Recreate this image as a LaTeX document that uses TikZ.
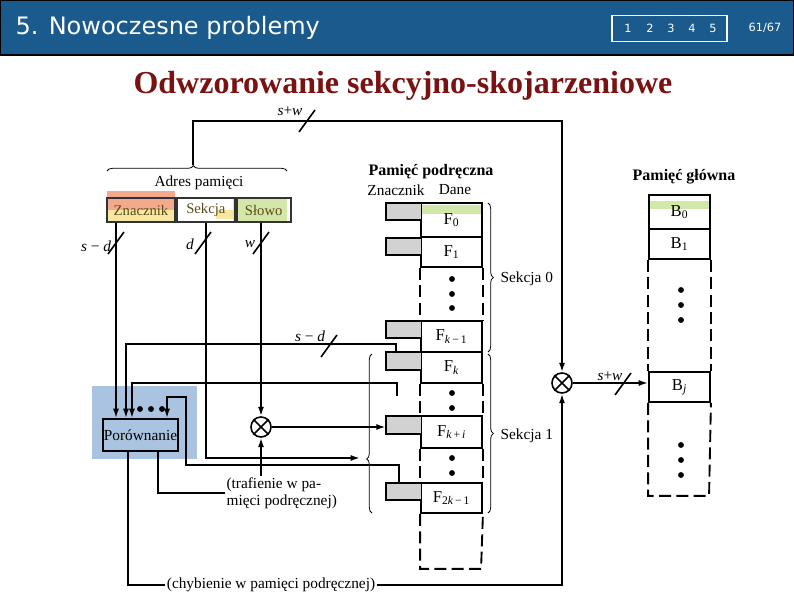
\documentclass[tikz,border=0pt]{standalone}
\usepackage{fontspec}
\setmainfont{Liberation Serif}
\newfontfamily\headfont{DejaVu Sans}
\usetikzlibrary{arrows.meta,positioning,calc,decorations.pathreplacing}
\definecolor{headblue}{HTML}{1A5A8C}
\definecolor{titlered}{HTML}{7A1212}
\definecolor{hlblue}{HTML}{A9C3E0}
\definecolor{tagsalmon}{HTML}{F3A98E}
\definecolor{tagyellow}{HTML}{F7E7A2}
\definecolor{wordgreen}{HTML}{D3E7A9}
\definecolor{fieldtext}{HTML}{5E4A18}
\definecolor{taggray}{HTML}{D2D2D2}

\begin{document}
\begin{tikzpicture}[x=0.75pt,y=-0.75pt,
  conn/.style={line width=1.3pt},
  arr/.style={conn,-{Latex[length=7pt,width=4.5pt]}},
  cell/.style={draw,line width=1.4pt,minimum width=45.75pt,minimum height=22.5pt,
    inner sep=0pt,font=\fontsize{12.5}{14}\selectfont},
  dashline/.style={line width=1.4pt,dash pattern=on 9pt off 4pt},
  tagbox/.style={fill=taggray,minimum width=26.25pt,minimum height=12.75pt,inner sep=0pt},
  field/.style={draw=black!80,line width=1.4pt,minimum height=18pt,inner sep=0pt,
    text=fieldtext,font=\fontsize{11}{12}\selectfont},
  lbl/.style={font=\fontsize{11.5}{12.5}\selectfont,inner sep=1pt},
  head/.style={font=\bfseries\fontsize{12}{14}\selectfont,inner sep=1pt},
  mult/.style={draw,circle,line width=1.2pt,minimum size=15pt,inner sep=0pt},
  brc/.style={decorate,decoration={brace,amplitude=4pt,aspect=#1},line width=0.6pt},
  brc/.default=0.5,
  busmark/.pic={\draw[line width=1.2pt] (-8,11) -- (8,-11);},
]
\useasboundingbox (0,0) rectangle (794,595);

% header band
\fill[headblue] (0,0) rectangle (794,55);
\draw[line width=1.2pt] (0.6,0.6) rectangle (793.4,55);
\node[anchor=west,text=white,font=\headfont\fontsize{18}{21}\selectfont] (headtitle) at (11,28) {5. Nowoczesne problemy};
\node[draw=white,line width=0.9pt,minimum width=86.25pt,minimum height=20pt,inner sep=0pt] (navbox) at (669.5,28.5) {};
\foreach \n/\xx in {1/628,2/650,3/671,4/692,5/713}
  \node[text=white,font=\headfont\fontsize{8.5}{10}\selectfont] (nav\n) at (\xx,28) {\n};
\node[text=white,font=\headfont\fontsize{8.5}{10}\selectfont] (pageno) at (765,28) {61/67};

\node[text=titlered,font=\bfseries\fontsize{24}{28}\selectfont] (title) at (403,86) {Odwzorowanie sekcyjno-skojarzeniowe};

% memory address
\fill[tagsalmon] (107,191) rectangle (175,210);
\fill[tagyellow] (107,210) rectangle (175,222);
\fill[tagyellow] (216,210) rectangle (233,219);
\fill[wordgreen] (233,198) rectangle (287,222);
\node[field,minimum width=51pt] (zn) at (141,210) {Znacznik};
\node[field,minimum width=43.5pt,right=0pt of zn] (sek) {Sekcja};
\node[field,minimum width=40.5pt,right=0pt of sek] (slo) {Słowo};
\node[lbl] (adr) at (199,183) {Adres pamięci};
\draw[brc=0.48] (107,171) -- (287,171);
\coordinate (adrtip) at (193,165);

% cache memory
\node[head] (cachehead) at (431,172) {Pamięć podręczna};
\node[lbl] (cachetag) at (396,190) {Znacznik};
\node[lbl] (cachedata) at (455,190) {Dane};
\fill[wordgreen] (421,205) rectangle (482,214);
\node[cell,minimum height=25.5pt] (f0) at (451.5,220) {F\textsubscript{0}};
\node[cell] (f1) at (451.5,252) {F\textsubscript{1}};
\node[cell,minimum height=23.25pt] (fk1) at (451.5,336.5) {F\textsubscript{\textit{k}\,−\,1}};
\node[cell,minimum height=23.25pt] (fk) at (451.5,367.5) {F\textsubscript{\textit{k}}};
\node[cell,minimum height=24pt] (fki) at (451.5,432) {F\textsubscript{\textit{k}\,+\,\textit{i}}};
\node[cell] (f2k) at (451.5,498) {F\textsubscript{2\textit{k}\,−\,1}};
\draw[dashline] (f1.south west) -- (fk1.north west) (f1.south east) -- (fk1.north east);
\draw[dashline] (fk.south west) -- (fki.north west) (fk.south east) -- (fki.north east);
\draw[dashline] (fki.south west) -- (f2k.north west) (fki.south east) -- (f2k.north east);
\draw[dashline] (f2k.south west) -- ++(0,55) -- ++(61,0) -- (f2k.south east);
\foreach \t/\yy in {t0/211.5,t1/246.5,tk1/329.5,tk/361,tki/425,t2k/491.5}
  \node[tagbox] (\t) at (403.5,\yy) {};
\foreach \t in {t0,t1,tk1,tk,tki,t2k}
  \draw[line width=1.7pt] (\t.north east) -- (\t.north west) -- (\t.south west) -- (\t.south east);
\foreach \yy in {279,294,308,393,408,458,473}
  \fill (452,\yy) circle (2.2pt);
\draw[brc] (488,203) -- (488,352);
\draw[brc] (488,354) -- (488,513);
\draw[brc=0.34] (372,513) -- (372,354);
\coordinate (sec1tip) at (360,458);
\node[lbl,anchor=west] (sec0) at (499,279) {Sekcja 0};
\node[lbl,anchor=west] (sec1) at (499,436) {Sekcja 1};

% main memory
\node[head] (mainhead) at (684,177) {Pamięć główna};
\fill[wordgreen] (649,201) rectangle (709,209);
\node[cell,minimum height=25.5pt] (b0) at (679.5,212) {B\textsubscript{0}};
\node[cell] (b1) at (679.5,244) {B\textsubscript{1}};
\node[cell] (bj) at (679.5,387) {B\textsubscript{\textit{j}}};
\draw[dashline] (b1.south west) -- (bj.north west) (b1.south east) -- (bj.north east);
\draw[dashline] (bj.south west) -- ++(0,93) -- ++(61,0) -- (bj.south east);
\foreach \yy in {290,305,320,445,460,475}
  \fill (681,\yy) circle (2.2pt);

% comparator and multipliers
\fill[hlblue] (92,386) rectangle (197,459);
\node[draw,line width=1.4pt,minimum width=56.25pt,minimum height=24pt,inner sep=0pt,
  font=\fontsize{11.5}{12.5}\selectfont] (cmp) at (140.5,435) {Porównanie};
\foreach \xx in {140,151,162}
  \fill (\xx,409) circle (2.2pt);
\node[mult] (mul1) at (261,427) {};
\node[mult] (mul2) at (562,383) {};
\foreach \m in {mul1,mul2}
  \draw[line width=1.1pt] (\m.north west) -- (\m.south east) (\m.north east) -- (\m.south west);
\node[lbl,anchor=west,align=left,font=\fontsize{11.5}{12.8}\selectfont] (hit) at (225,493)
  {(trafienie w pa-\\mięci podręcznej)};
\node[lbl] (miss) at (271,585) {(chybienie w pamięci podręcznej)};

% connectors
\coordinate (topbend) at (562,121);
\draw[arr] (adrtip) |- (topbend) -- (mul2.north);
\pic at (307,121) {busmark};
\node[lbl] (lswa) at (290,111) {\textit{s}+\textit{w}};
\draw[arr] ([xshift=-18.75pt]zn.south) -- ([xshift=-18.75pt]zn.south |- cmp.north);
\pic at (116,243) {busmark};
\node[lbl] (lsda) at (96,246) {\textit{s} − \textit{d}};
\draw[arr] (sek.south) |- (sec1tip);
\pic at (203,243) {busmark};
\node[lbl] (ld) at (190,244) {\textit{d}};
\draw[arr] (slo.south -| mul1.north) -- (mul1.north);
\pic at (261,243) {busmark};
\node[lbl] (lw) at (250,244) {\textit{w}};
\draw[arr] ([xshift=7.5pt]tk.north west) -- ++(0,-8) -| ([xshift=-10.9pt]cmp.north);
\pic at (329,346) {busmark};
\node[lbl] (lsdb) at (310,336) {\textit{s} − \textit{d}};
\coordinate (stub) at (397,396);
\draw[arr] (stub) -- ++(0,-13) -| ([xshift=-6.4pt]cmp.north);
\draw[arr] ([xshift=9.75pt]t2k.north west) -- ++(0,-18) -| (186,397) -| ([xshift=19.9pt]cmp.north);
\draw[arr] (mul1.east) -- (mul1.east -| tki.west);
\draw[conn] ([xshift=13pt]cmp.south) |- (hit.west);
\draw[arr] (hit.north -| mul1.south) -- (mul1.south);
\draw[conn] ([xshift=-9.4pt]cmp.south) |- (miss.west);
\draw[arr] (miss.east) -| (mul2.south);
\draw[arr] (mul2.east) -- (mul2.east -| bj.west);
\pic at (623,384) {busmark};
\node[lbl] (lswb) at (610,376) {\textit{s}+\textit{w}};
\end{tikzpicture}
\end{document}
